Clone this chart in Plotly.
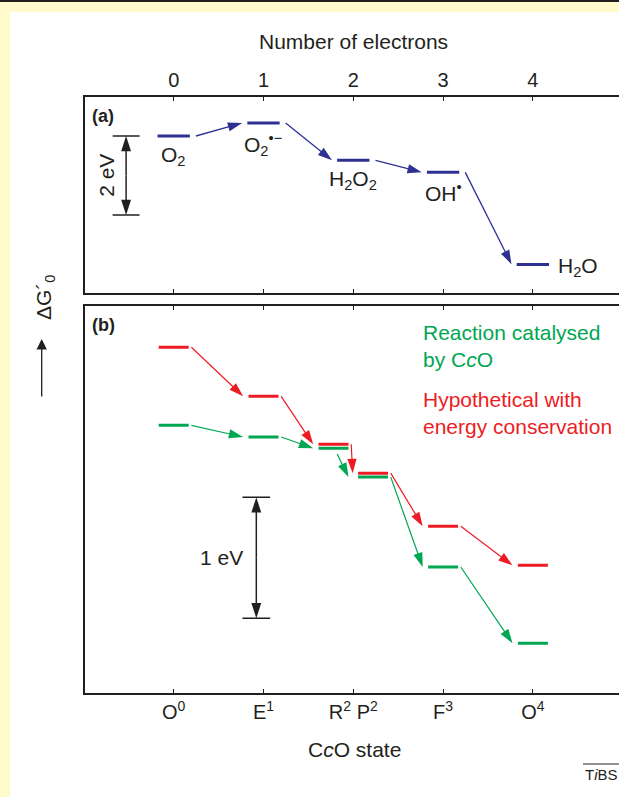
import plotly.graph_objects as go

# ---------------- data ----------------
electrons = [0, 1, 2, 3, 4]
electron_labels = ["0", "1", "2", "3", "4"]
species = ["O<sub>2</sub>", "O<sub>2</sub><sup>•−</sup>", "H<sub>2</sub>O<sub>2</sub>",
           "OH<sup>•</sup>", "H<sub>2</sub>O"]
energy_a = [0.0, 0.33, -0.615, -0.92, -3.25]          # eV, relative to O2

state_pos = [0, 1, 1.78, 2.22, 3, 4]                    # O0, E1, R2, P2, F3, O4
energy_hypo = [0.0, -0.405, -0.802, -1.040, -1.479, -1.802]   # hypothetical (red)
energy_cco = [-0.645, -0.741, -0.835, -1.073, -1.816, -2.446]  # catalysed by CcO (green)

state_tick_vals = [0, 1, 2, 3, 4]
state_tick_text = ["O<sup>0</sup>", "E<sup>1</sup>", "R<sup>2</sup>\u00a0P<sup>2</sup>",
                   "F<sup>3</sup>", "O<sup>4</sup>"]

scale_a_ev = 2
scale_b_ev = 1

# ---------------- style ----------------
W, H = 619, 797
FONT = "Liberation Sans, Arial, Helvetica, sans-serif"
INK = "#231F20"
BLUE = "#2E3192"
RED = "#ED1C24"
GREEN = "#00A651"
YELLOW = "#FFFACC"
FS = 20      # tick labels
FT = 21      # other texts

def fx(p):   # pixel x -> paper
    return p / W

def fy(p):   # pixel y -> paper
    return 1 - p / H

x_dom = [fx(84.5), 1.0]
ya_dom = [fy(293.3), fy(96.7)]
yb_dom = [fy(693.3), fy(305.7)]
x_range = [-0.9933, 4.959]
ya_range = [-3.982, 0.995]
yb_range = [-2.860, 0.344]

HW_A = 0.18
HW_B = 0.167
HEAD = 15


def levels(xs, ys, hw):
    X, Y = [], []
    for x, y in zip(xs, ys):
        X += [x - hw, x + hw, None]
        Y += [y, y, None]
    return X, Y


def arrows(xs, ys, hw, gs, ge, overrides=None):
    overrides = overrides or {}
    X, Y, S = [], [], []
    for i in range(len(xs) - 1):
        sdx, sdy, edx, edy = overrides.get(i, (hw + gs, 0.0, -(hw + ge), 0.0))
        X += [xs[i] + sdx, xs[i + 1] + edx, None]
        Y += [ys[i] + sdy, ys[i + 1] + edy, None]
        S += [0, HEAD, 0]
    return X, Y, S


def head_marker(sizes, col):
    return dict(symbol="arrow", size=sizes, color=col, angleref="previous",
                opacity=1, line=dict(width=0))


fig = go.Figure()

# ---- panel (a)
lx, ly = levels(electrons, energy_a, HW_A)
fig.add_trace(go.Scatter(x=lx, y=ly, mode="lines", line=dict(color=BLUE, width=3),
                         xaxis="x", yaxis="y", hoverinfo="skip"))
ax_, ay_, as_ = arrows(electrons, energy_a, HW_A, 0.067, 0.058)
fig.add_trace(go.Scatter(x=ax_, y=ay_, mode="lines+markers",
                         line=dict(color=BLUE, width=1.3),
                         marker=head_marker(as_, BLUE),
                         xaxis="x", yaxis="y", hoverinfo="skip"))

# ---- panel (b)
for vals, col, ov in [(energy_hypo, RED, None),
                      (energy_cco, GREEN, {2: (0.041, -0.047, -0.274, 0.0)})]:
    lx, ly = levels(state_pos, vals, HW_B)
    fig.add_trace(go.Scatter(x=lx, y=ly, mode="lines", line=dict(color=col, width=3),
                             xaxis="x2", yaxis="y2", hoverinfo="skip"))
    bx, by, bs = arrows(state_pos, vals, HW_B, 0.03, 0.06, ov)
    fig.add_trace(go.Scatter(x=bx, y=by, mode="lines+markers",
                             line=dict(color=col, width=1.2),
                             marker=head_marker(bs, col),
                             xaxis="x2", yaxis="y2", hoverinfo="skip"))

# ---- scale bars
def scale_bar(xc, half, top, span, xa, ya):
    bot = top - span
    mid = (top + bot) / 2
    fig.add_trace(go.Scatter(x=[xc - half, xc + half, None, xc - half, xc + half],
                             y=[top, top, None, bot, bot], mode="lines",
                             line=dict(color=INK, width=1.5), xaxis=xa, yaxis=ya,
                             hoverinfo="skip"))
    fig.add_trace(go.Scatter(x=[xc, xc, None, xc, xc], y=[mid, top, None, mid, bot],
                             mode="lines+markers", line=dict(color=INK, width=1.5),
                             marker=head_marker([0, 16, 0, 0, 16], INK),
                             xaxis=xa, yaxis=ya, hoverinfo="skip"))
    return mid

mid_a = scale_bar(-0.53, 0.15, 0.0, scale_a_ev, "x", "y")
mid_b = scale_bar(0.92, 0.154, -1.24, scale_b_ev, "x2", "y2")

axis_common = dict(ticks="inside", ticklen=5, tickwidth=1.3, tickcolor=INK,
                   showline=True, linewidth=1.5, linecolor=INK, mirror="ticks",
                   showgrid=False, zeroline=False, tickfont=dict(size=FS, color=INK),
                   range=x_range, domain=x_dom, fixedrange=True)
yaxis_common = dict(showline=True, linewidth=1.5, linecolor=INK, mirror=False,
                    showticklabels=False, ticks="", showgrid=False, zeroline=False,
                    fixedrange=True)

ann = []
# species labels panel (a)
for i, (x, y, t) in enumerate(zip(electrons, energy_a, species)):
    if i == len(species) - 1:
        ann.append(dict(x=x + HW_A + 0.08, y=y, xref="x", yref="y", text=t, showarrow=False,
                        xanchor="left", yanchor="middle", yshift=-3))
    else:
        ann.append(dict(x=x, y=y, xref="x", yref="y", text=t, showarrow=False,
                        xanchor="center", yanchor="top", yshift=-5))

ann += [
    dict(x=fx(353), y=fy(42), xref="paper", yref="paper", text="Number of electrons",
         showarrow=False, xanchor="center", yanchor="middle"),
    dict(x=fx(354), y=fy(749), xref="paper", yref="paper", text="C<i>c</i>O state",
         showarrow=False, xanchor="center", yanchor="middle"),
    dict(x=fx(90), y=fy(104), xref="paper", yref="paper", text="<b>(a)</b>",
         showarrow=False, xanchor="left", yanchor="top", font=dict(size=18)),
    dict(x=fx(90), y=fy(313), xref="paper", yref="paper", text="<b>(b)</b>",
         showarrow=False, xanchor="left", yanchor="top", font=dict(size=18)),
    dict(x=-0.75, y=mid_a, xref="x", yref="y", text=f"{scale_a_ev} eV", textangle=-90,
         showarrow=False, xanchor="center", yanchor="middle"),
    dict(x=0.532, y=mid_b, xref="x2", yref="y2", text=f"{scale_b_ev} eV",
         showarrow=False, xanchor="center", yanchor="middle"),
    dict(x=fx(421), y=fy(319), xref="paper", yref="paper",
         text="Reaction catalysed<br>by C<i>c</i>O", align="left",
         showarrow=False, xanchor="left", yanchor="top", font=dict(color=GREEN)),
    dict(x=fx(421), y=fy(386), xref="paper", yref="paper",
         text="Hypothetical with<br>energy conservation", align="left",
         showarrow=False, xanchor="left", yanchor="top", font=dict(color=RED)),
    dict(x=fx(45), y=fy(297), xref="paper", yref="paper", text="ΔG´<sub>0</sub>",
         textangle=-90, showarrow=False, xanchor="center", yanchor="middle"),
    dict(x=fx(41.7), y=fy(339), xref="paper", yref="paper", text="", showarrow=True,
         ax=0, ay=59, arrowhead=2, arrowsize=1.6, arrowwidth=1.3, arrowcolor=INK),
    dict(x=fx(583), y=fy(774), xref="paper", yref="paper", text="T<i>i</i>BS",
         showarrow=False, xanchor="left", yanchor="middle", font=dict(size=15)),
]

shapes = [
    dict(type="rect", xref="paper", yref="paper", x0=fx(10), x1=1.0, y0=0, y1=fy(12),
         fillcolor="white", line=dict(width=0), layer="below"),
    dict(type="line", xref="paper", yref="paper", x0=0, x1=1, y0=fy(1), y1=fy(1),
         line=dict(color=INK, width=2)),
    dict(type="line", xref="paper", yref="paper", x0=fx(583), x1=fx(619), y0=fy(764),
         y1=fy(764), line=dict(color=INK, width=1)),
]

fig.update_layout(
    width=W, height=H, margin=dict(l=0, r=0, t=0, b=0),
    paper_bgcolor=YELLOW, plot_bgcolor="rgba(0,0,0,0)",
    font=dict(family=FONT, size=FT, color=INK),
    showlegend=False,
    xaxis=dict(anchor="y", side="top", tickvals=electrons, ticktext=electron_labels,
               **axis_common),
    yaxis=dict(anchor="x", domain=ya_dom, range=ya_range, **yaxis_common),
    xaxis2=dict(anchor="y2", side="bottom", tickvals=state_tick_vals,
                ticktext=state_tick_text, **axis_common),
    yaxis2=dict(anchor="x2", domain=yb_dom, range=yb_range, **yaxis_common),
    annotations=ann, shapes=shapes,
)

fig.write_html("out.html", config={"displayModeBar": False},
               post_script="document.body.style.margin='0px';document.body.style.padding='0px';")
